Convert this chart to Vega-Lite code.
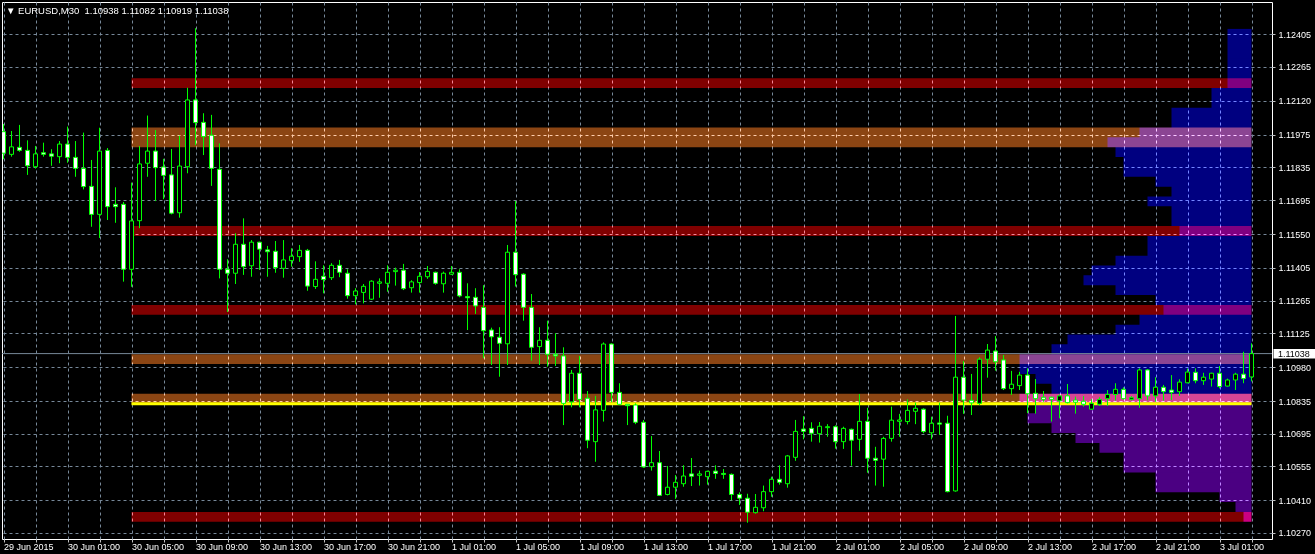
{
  "$schema": "https://vega.github.io/schema/vega-lite/v6.json",
  "width": 1270,
  "height": 537,
  "autosize": "none",
  "padding": {"left": 2, "top": 2, "right": 43, "bottom": 15},
  "background": "#000000",
  "config": {
    "view": {"stroke": "#ffffff", "strokeWidth": 1},
    "font": "Liberation Sans",
    "axis": {
      "domain": false,
      "grid": true,
      "gridColor": "#778899",
      "gridDash": [3, 3],
      "gridWidth": 1,
      "ticks": true,
      "tickColor": "#c0c0c0",
      "tickSize": 3,
      "labelColor": "#ffffff",
      "labelFont": "Liberation Sans",
      "labelFontSize": 9,
      "labelOverlap": false,
      "labelBound": false,
      "labelFlush": false
    }
  },
  "title": {
    "text": "▼ EURUSD,M30\u00a0 1.10938 1.11082 1.10919 1.11038",
    "anchor": "start",
    "frame": "group",
    "orient": "top",
    "offset": 0,
    "baseline": "alphabetic",
    "dx": 4,
    "dy": 21,
    "color": "#ffffff",
    "font": "Liberation Sans",
    "fontSize": 9.5,
    "fontWeight": "normal"
  },
  "datasets": {
    "profile": [
      {"row":1,"top":1.12428,"bot":1.123858,"from":153,"side":"upper"},
      {"row":2,"top":1.123858,"bot":1.123436,"from":153,"side":"upper"},
      {"row":3,"top":1.123436,"bot":1.123014,"from":153,"side":"upper"},
      {"row":4,"top":1.123014,"bot":1.122592,"from":153,"side":"upper"},
      {"row":5,"top":1.122592,"bot":1.12217,"from":153,"side":"upper"},
      {"row":6,"top":1.12217,"bot":1.121748,"from":153,"side":"upper"},
      {"row":7,"top":1.121748,"bot":1.121326,"from":151,"side":"upper"},
      {"row":8,"top":1.121326,"bot":1.120904,"from":151,"side":"upper"},
      {"row":9,"top":1.120904,"bot":1.120482,"from":146,"side":"upper"},
      {"row":10,"top":1.120482,"bot":1.12006,"from":146,"side":"upper"},
      {"row":11,"top":1.12006,"bot":1.119638,"from":142,"side":"upper"},
      {"row":12,"top":1.119638,"bot":1.119216,"from":138,"side":"upper"},
      {"row":13,"top":1.119216,"bot":1.118794,"from":139,"side":"upper"},
      {"row":14,"top":1.118794,"bot":1.118372,"from":140,"side":"upper"},
      {"row":15,"top":1.118372,"bot":1.11795,"from":140,"side":"upper"},
      {"row":16,"top":1.11795,"bot":1.117528,"from":144,"side":"upper"},
      {"row":17,"top":1.117528,"bot":1.117106,"from":146,"side":"upper"},
      {"row":18,"top":1.117106,"bot":1.116684,"from":143,"side":"upper"},
      {"row":19,"top":1.116684,"bot":1.116262,"from":146,"side":"upper"},
      {"row":20,"top":1.116262,"bot":1.11584,"from":146,"side":"upper"},
      {"row":21,"top":1.11584,"bot":1.115418,"from":147,"side":"upper"},
      {"row":22,"top":1.115418,"bot":1.114996,"from":143,"side":"upper"},
      {"row":23,"top":1.114996,"bot":1.114574,"from":143,"side":"upper"},
      {"row":24,"top":1.114574,"bot":1.114152,"from":139,"side":"upper"},
      {"row":25,"top":1.114152,"bot":1.11373,"from":136,"side":"upper"},
      {"row":26,"top":1.11373,"bot":1.113308,"from":135,"side":"upper"},
      {"row":27,"top":1.113308,"bot":1.112886,"from":139,"side":"upper"},
      {"row":28,"top":1.112886,"bot":1.112464,"from":144,"side":"upper"},
      {"row":29,"top":1.112464,"bot":1.112042,"from":145,"side":"upper"},
      {"row":30,"top":1.112042,"bot":1.11162,"from":142,"side":"upper"},
      {"row":31,"top":1.11162,"bot":1.111198,"from":139,"side":"upper"},
      {"row":32,"top":1.111198,"bot":1.110776,"from":133,"side":"upper"},
      {"row":33,"top":1.110776,"bot":1.110354,"from":131,"side":"upper"},
      {"row":34,"top":1.110354,"bot":1.109932,"from":127,"side":"upper"},
      {"row":35,"top":1.109932,"bot":1.10951,"from":127,"side":"upper"},
      {"row":36,"top":1.10951,"bot":1.109088,"from":129,"side":"upper"},
      {"row":37,"top":1.109088,"bot":1.108666,"from":131,"side":"upper"},
      {"row":38,"top":1.108666,"bot":1.108244,"from":127,"side":"lower"},
      {"row":39,"top":1.108244,"bot":1.107822,"from":129,"side":"lower"},
      {"row":40,"top":1.107822,"bot":1.1074,"from":128,"side":"lower"},
      {"row":41,"top":1.1074,"bot":1.106978,"from":131,"side":"lower"},
      {"row":42,"top":1.106978,"bot":1.106556,"from":134,"side":"lower"},
      {"row":43,"top":1.106556,"bot":1.106134,"from":137,"side":"lower"},
      {"row":44,"top":1.106134,"bot":1.105712,"from":140,"side":"lower"},
      {"row":45,"top":1.105712,"bot":1.10529,"from":140,"side":"lower"},
      {"row":46,"top":1.10529,"bot":1.104868,"from":144,"side":"lower"},
      {"row":47,"top":1.104868,"bot":1.104446,"from":144,"side":"lower"},
      {"row":48,"top":1.104446,"bot":1.104024,"from":152,"side":"lower"},
      {"row":49,"top":1.104024,"bot":1.103602,"from":154,"side":"lower"},
      {"row":50,"top":1.103602,"bot":1.10318,"from":155,"side":"lower"}
    ],
    "zones": [
      {"top":1.12217,"bot":1.121748,"kind":"strong"},
      {"top":1.12006,"bot":1.119216,"kind":"weak"},
      {"top":1.11584,"bot":1.115418,"kind":"strong"},
      {"top":1.112464,"bot":1.112042,"kind":"strong"},
      {"top":1.110354,"bot":1.109932,"kind":"weak"},
      {"top":1.108666,"bot":1.108244,"kind":"weak"},
      {"top":1.103602,"bot":1.10318,"kind":"strong"}
    ],
    "candles": [
      {"i":0,"o":1.11988,"h":1.12021,"l":1.1187,"c":1.11896},
      {"i":1,"o":1.11891,"h":1.11991,"l":1.11881,"c":1.11923},
      {"i":2,"o":1.11921,"h":1.12017,"l":1.11902,"c":1.11908},
      {"i":3,"o":1.11908,"h":1.11951,"l":1.11803,"c":1.11842},
      {"i":4,"o":1.11838,"h":1.11927,"l":1.1183,"c":1.11893},
      {"i":5,"o":1.11898,"h":1.11941,"l":1.11881,"c":1.11891},
      {"i":6,"o":1.11893,"h":1.11913,"l":1.11842,"c":1.11883},
      {"i":7,"o":1.11881,"h":1.11948,"l":1.11853,"c":1.11935},
      {"i":8,"o":1.11935,"h":1.1201,"l":1.11855,"c":1.11878},
      {"i":9,"o":1.11878,"h":1.11948,"l":1.11795,"c":1.11831},
      {"i":10,"o":1.11831,"h":1.11984,"l":1.11741,"c":1.11753},
      {"i":11,"o":1.11754,"h":1.11867,"l":1.11581,"c":1.11634},
      {"i":12,"o":1.11634,"h":1.12005,"l":1.11533,"c":1.11905},
      {"i":13,"o":1.11908,"h":1.11918,"l":1.1161,"c":1.11667},
      {"i":14,"o":1.11677,"h":1.1175,"l":1.11598,"c":1.11667},
      {"i":15,"o":1.11677,"h":1.11687,"l":1.11346,"c":1.11399},
      {"i":16,"o":1.11399,"h":1.1177,"l":1.11324,"c":1.11606},
      {"i":17,"o":1.11607,"h":1.11927,"l":1.11575,"c":1.1185},
      {"i":18,"o":1.11853,"h":1.12057,"l":1.11795,"c":1.11905},
      {"i":19,"o":1.11905,"h":1.11995,"l":1.11691,"c":1.11834},
      {"i":20,"o":1.11837,"h":1.11872,"l":1.11699,"c":1.11801},
      {"i":21,"o":1.11803,"h":1.11914,"l":1.11634,"c":1.11639},
      {"i":22,"o":1.11641,"h":1.11971,"l":1.1162,"c":1.11841},
      {"i":23,"o":1.11838,"h":1.12176,"l":1.1181,"c":1.12124},
      {"i":24,"o":1.12124,"h":1.12431,"l":1.1193,"c":1.12027},
      {"i":25,"o":1.12028,"h":1.12067,"l":1.11888,"c":1.11967},
      {"i":26,"o":1.11973,"h":1.1206,"l":1.11756,"c":1.11831},
      {"i":27,"o":1.11827,"h":1.11938,"l":1.1136,"c":1.11399},
      {"i":28,"o":1.11399,"h":1.11442,"l":1.11216,"c":1.11382},
      {"i":29,"o":1.11382,"h":1.11553,"l":1.11336,"c":1.11506},
      {"i":30,"o":1.11506,"h":1.11617,"l":1.11375,"c":1.1141},
      {"i":31,"o":1.11414,"h":1.11524,"l":1.11367,"c":1.11515},
      {"i":32,"o":1.11515,"h":1.11517,"l":1.11396,"c":1.11485},
      {"i":33,"o":1.11482,"h":1.11499,"l":1.11367,"c":1.11474},
      {"i":34,"o":1.11476,"h":1.1152,"l":1.11384,"c":1.11406},
      {"i":35,"o":1.11403,"h":1.11524,"l":1.11363,"c":1.11439},
      {"i":36,"o":1.11436,"h":1.11489,"l":1.1141,"c":1.11455},
      {"i":37,"o":1.11453,"h":1.11503,"l":1.11431,"c":1.1148},
      {"i":38,"o":1.1148,"h":1.11486,"l":1.11307,"c":1.11327},
      {"i":39,"o":1.11325,"h":1.11433,"l":1.11315,"c":1.11356},
      {"i":40,"o":1.11369,"h":1.11416,"l":1.11296,"c":1.11355},
      {"i":41,"o":1.11363,"h":1.11425,"l":1.11353,"c":1.11416},
      {"i":42,"o":1.11416,"h":1.11439,"l":1.11365,"c":1.11386},
      {"i":43,"o":1.11382,"h":1.11399,"l":1.11273,"c":1.11286},
      {"i":44,"o":1.11286,"h":1.11318,"l":1.11249,"c":1.11306},
      {"i":45,"o":1.113,"h":1.11336,"l":1.11253,"c":1.11326},
      {"i":46,"o":1.11271,"h":1.11352,"l":1.11268,"c":1.11348},
      {"i":47,"o":1.11339,"h":1.1136,"l":1.11277,"c":1.11345},
      {"i":48,"o":1.11339,"h":1.11416,"l":1.11303,"c":1.11386},
      {"i":49,"o":1.11389,"h":1.11406,"l":1.11329,"c":1.11395},
      {"i":50,"o":1.11395,"h":1.11422,"l":1.1131,"c":1.11316},
      {"i":51,"o":1.1132,"h":1.11352,"l":1.11299,"c":1.11345},
      {"i":52,"o":1.11342,"h":1.11387,"l":1.11299,"c":1.11369},
      {"i":53,"o":1.11367,"h":1.11413,"l":1.11358,"c":1.1139},
      {"i":54,"o":1.11386,"h":1.11389,"l":1.11333,"c":1.11339},
      {"i":55,"o":1.11337,"h":1.11389,"l":1.11299,"c":1.11382},
      {"i":56,"o":1.11378,"h":1.11413,"l":1.11375,"c":1.11386},
      {"i":57,"o":1.11386,"h":1.11399,"l":1.11279,"c":1.11285},
      {"i":58,"o":1.11282,"h":1.11339,"l":1.11139,"c":1.11277},
      {"i":59,"o":1.11279,"h":1.11318,"l":1.11208,"c":1.11242},
      {"i":60,"o":1.11236,"h":1.11331,"l":1.11018,"c":1.11136},
      {"i":61,"o":1.11139,"h":1.11149,"l":1.10989,"c":1.1111},
      {"i":62,"o":1.11108,"h":1.11151,"l":1.10939,"c":1.11082},
      {"i":63,"o":1.1108,"h":1.11503,"l":1.10989,"c":1.11472},
      {"i":64,"o":1.11472,"h":1.11691,"l":1.11325,"c":1.11376},
      {"i":65,"o":1.11378,"h":1.11382,"l":1.11179,"c":1.11236},
      {"i":66,"o":1.11236,"h":1.11293,"l":1.11008,"c":1.11065},
      {"i":67,"o":1.11068,"h":1.11151,"l":1.10989,"c":1.11095},
      {"i":68,"o":1.11095,"h":1.11179,"l":1.10982,"c":1.11035},
      {"i":69,"o":1.11035,"h":1.11125,"l":1.10985,"c":1.11028},
      {"i":70,"o":1.11028,"h":1.11065,"l":1.10732,"c":1.10825},
      {"i":71,"o":1.10831,"h":1.10968,"l":1.10808,"c":1.10954},
      {"i":72,"o":1.10954,"h":1.11028,"l":1.10808,"c":1.10842},
      {"i":73,"o":1.10847,"h":1.10878,"l":1.10633,"c":1.10667},
      {"i":74,"o":1.10661,"h":1.10857,"l":1.10575,"c":1.10797},
      {"i":75,"o":1.10795,"h":1.11086,"l":1.10747,"c":1.11079},
      {"i":76,"o":1.11079,"h":1.11082,"l":1.1083,"c":1.10872},
      {"i":77,"o":1.10872,"h":1.10911,"l":1.10818,"c":1.10821},
      {"i":78,"o":1.10821,"h":1.10821,"l":1.10732,"c":1.10815},
      {"i":79,"o":1.10818,"h":1.10825,"l":1.10736,"c":1.10744},
      {"i":80,"o":1.10744,"h":1.10754,"l":1.10549,"c":1.10553},
      {"i":81,"o":1.10554,"h":1.10685,"l":1.10537,"c":1.10571},
      {"i":82,"o":1.10571,"h":1.10621,"l":1.1043,"c":1.10431},
      {"i":83,"o":1.10435,"h":1.10557,"l":1.10431,"c":1.10466},
      {"i":84,"o":1.10466,"h":1.10518,"l":1.10416,"c":1.10487},
      {"i":85,"o":1.10481,"h":1.1056,"l":1.10468,"c":1.10514},
      {"i":86,"o":1.10523,"h":1.10591,"l":1.10471,"c":1.10513},
      {"i":87,"o":1.10517,"h":1.10537,"l":1.10473,"c":1.10523},
      {"i":88,"o":1.10511,"h":1.10537,"l":1.10477,"c":1.10534},
      {"i":89,"o":1.10535,"h":1.1056,"l":1.10502,"c":1.10525},
      {"i":90,"o":1.10525,"h":1.10544,"l":1.10502,"c":1.10521},
      {"i":91,"o":1.10521,"h":1.10525,"l":1.1041,"c":1.10435},
      {"i":92,"o":1.10435,"h":1.10444,"l":1.1039,"c":1.10419},
      {"i":93,"o":1.10419,"h":1.10438,"l":1.10314,"c":1.10359},
      {"i":94,"o":1.10357,"h":1.10437,"l":1.10353,"c":1.1038},
      {"i":95,"o":1.10378,"h":1.10473,"l":1.10363,"c":1.10447},
      {"i":96,"o":1.10447,"h":1.10511,"l":1.10425,"c":1.105},
      {"i":97,"o":1.105,"h":1.1056,"l":1.10477,"c":1.10487},
      {"i":98,"o":1.10481,"h":1.10604,"l":1.10464,"c":1.106},
      {"i":99,"o":1.10594,"h":1.10754,"l":1.10579,"c":1.10705},
      {"i":100,"o":1.10715,"h":1.1077,"l":1.10671,"c":1.10705},
      {"i":101,"o":1.10718,"h":1.10744,"l":1.10661,"c":1.10697},
      {"i":102,"o":1.10695,"h":1.10745,"l":1.10657,"c":1.10727},
      {"i":103,"o":1.10721,"h":1.10736,"l":1.10682,"c":1.10725},
      {"i":104,"o":1.10725,"h":1.10731,"l":1.10631,"c":1.10661},
      {"i":105,"o":1.10661,"h":1.10725,"l":1.1063,"c":1.10718},
      {"i":106,"o":1.10714,"h":1.10717,"l":1.10558,"c":1.10667},
      {"i":107,"o":1.10671,"h":1.10865,"l":1.10622,"c":1.10748},
      {"i":108,"o":1.10748,"h":1.10806,"l":1.10528,"c":1.1059},
      {"i":109,"o":1.1059,"h":1.10639,"l":1.10473,"c":1.10581},
      {"i":110,"o":1.10586,"h":1.10682,"l":1.10468,"c":1.10675},
      {"i":111,"o":1.10675,"h":1.10811,"l":1.10661,"c":1.10753},
      {"i":112,"o":1.10748,"h":1.1078,"l":1.10682,"c":1.10754},
      {"i":113,"o":1.10747,"h":1.10842,"l":1.10735,"c":1.10795},
      {"i":114,"o":1.10791,"h":1.10828,"l":1.10736,"c":1.10804},
      {"i":115,"o":1.108,"h":1.10804,"l":1.10697,"c":1.10704},
      {"i":116,"o":1.10699,"h":1.10768,"l":1.10671,"c":1.1074},
      {"i":117,"o":1.10741,"h":1.10828,"l":1.1069,"c":1.10736},
      {"i":118,"o":1.1074,"h":1.10772,"l":1.10444,"c":1.10447},
      {"i":119,"o":1.1045,"h":1.11199,"l":1.10447,"c":1.10937},
      {"i":120,"o":1.10937,"h":1.11006,"l":1.1078,"c":1.10839},
      {"i":121,"o":1.10838,"h":1.10951,"l":1.10775,"c":1.10827},
      {"i":122,"o":1.10825,"h":1.11022,"l":1.10818,"c":1.11014},
      {"i":123,"o":1.11014,"h":1.11079,"l":1.10935,"c":1.11053},
      {"i":124,"o":1.11049,"h":1.11113,"l":1.10965,"c":1.11003},
      {"i":125,"o":1.11011,"h":1.11032,"l":1.10882,"c":1.10888},
      {"i":126,"o":1.10888,"h":1.10964,"l":1.10861,"c":1.10907},
      {"i":127,"o":1.10901,"h":1.1096,"l":1.10882,"c":1.10946},
      {"i":128,"o":1.10946,"h":1.10975,"l":1.10783,"c":1.10866},
      {"i":129,"o":1.10868,"h":1.10929,"l":1.10781,"c":1.10845},
      {"i":130,"o":1.10851,"h":1.10878,"l":1.10832,"c":1.10842},
      {"i":131,"o":1.10851,"h":1.10854,"l":1.10747,"c":1.10842},
      {"i":132,"o":1.10836,"h":1.10863,"l":1.10761,"c":1.10857},
      {"i":133,"o":1.10857,"h":1.10908,"l":1.10825,"c":1.10828},
      {"i":134,"o":1.10839,"h":1.10854,"l":1.10781,"c":1.1083},
      {"i":135,"o":1.10834,"h":1.10856,"l":1.10811,"c":1.10821},
      {"i":136,"o":1.108,"h":1.10843,"l":1.10797,"c":1.10825},
      {"i":137,"o":1.10821,"h":1.10851,"l":1.10814,"c":1.10842},
      {"i":138,"o":1.10845,"h":1.10882,"l":1.10814,"c":1.10863},
      {"i":139,"o":1.10863,"h":1.10911,"l":1.10837,"c":1.10885},
      {"i":140,"o":1.10885,"h":1.10894,"l":1.10842,"c":1.10845},
      {"i":141,"o":1.10842,"h":1.10856,"l":1.10837,"c":1.10849},
      {"i":142,"o":1.10845,"h":1.10975,"l":1.10806,"c":1.10968},
      {"i":143,"o":1.10968,"h":1.10972,"l":1.10838,"c":1.10857},
      {"i":144,"o":1.10857,"h":1.10937,"l":1.10832,"c":1.10894},
      {"i":145,"o":1.10894,"h":1.10904,"l":1.10837,"c":1.10875},
      {"i":146,"o":1.10882,"h":1.10946,"l":1.10839,"c":1.10872},
      {"i":147,"o":1.10875,"h":1.10928,"l":1.10857,"c":1.10916},
      {"i":148,"o":1.10913,"h":1.10974,"l":1.10911,"c":1.10959},
      {"i":149,"o":1.10958,"h":1.10975,"l":1.10911,"c":1.10922},
      {"i":150,"o":1.10922,"h":1.10956,"l":1.10904,"c":1.10937},
      {"i":151,"o":1.10929,"h":1.10956,"l":1.10897,"c":1.10954},
      {"i":152,"o":1.10954,"h":1.10985,"l":1.10889,"c":1.10897},
      {"i":153,"o":1.10899,"h":1.10931,"l":1.10897,"c":1.10925},
      {"i":154,"o":1.10925,"h":1.10956,"l":1.10882,"c":1.1095},
      {"i":155,"o":1.1095,"h":1.11046,"l":1.10911,"c":1.10931},
      {"i":156,"o":1.10938,"h":1.11082,"l":1.10919,"c":1.11038}
    ]
  },
  "layer": [
    {
      "data": {"name": "profile"},
      "mark": {"type": "rect", "blend": "plus-lighter"},
      "encoding": {
        "x": {
          "field": "from", "type": "quantitative",
          "scale": {"domain": [-0.1875, 158.5625], "nice": false, "zero": false, "padding": 0},
          "axis": {
            "values": [0,4,8,12,16,20,24,28,32,36,40,44,48,52,56,60,64,68,72,76,80,84,88,92,96,100,104,108,112,116,120,124,128,132,136,140,144,148,152,156],
            "tickCount": 100,
            "labelExpr": "datum.value % 8 === 0 ? ['29 Jun 2015','30 Jun 01:00','30 Jun 05:00','30 Jun 09:00','30 Jun 13:00','30 Jun 17:00','30 Jun 21:00','1 Jul 01:00','1 Jul 05:00','1 Jul 09:00','1 Jul 13:00','1 Jul 17:00','1 Jul 21:00','2 Jul 01:00','2 Jul 05:00','2 Jul 09:00','2 Jul 13:00','2 Jul 17:00','2 Jul 21:00','3 Jul 01:00'][datum.value / 8] : ''",
            "title": null,
            "labelAlign": "left",
            "labelBaseline": "top",
            "labelPadding": 0,
            "labelOverlap": false
          }
        },
        "x2": {"datum": 156},
        "y": {
          "field": "top", "type": "quantitative",
          "scale": {"domain": [1.102443, 1.125432], "nice": false, "zero": false},
          "axis": {
            "orient": "right",
            "values": [1.1027, 1.1041, 1.10555, 1.10695, 1.10835, 1.1098, 1.11125, 1.11265, 1.11405, 1.1155, 1.11695, 1.11835, 1.11975, 1.1212, 1.12265, 1.12405],
            "tickCount": 100,
            "format": ".5f",
            "title": null,
            "labelPadding": 3,
            "labelOverlap": false,
            "labelSeparation": 0
          }
        },
        "y2": {"field": "bot"},
        "fill": {
          "field": "side", "type": "nominal",
          "scale": {"domain": ["upper", "lower"], "range": ["#000080", "#4b0082"]},
          "legend": null
        }
      }
    },
    {
      "data": {"name": "zones"},
      "mark": {"type": "rect", "blend": "plus-lighter"},
      "encoding": {
        "x": {"datum": 16, "type": "quantitative", "scale": {"domain": [-0.1875, 158.5625], "nice": false, "zero": false, "padding": 0}},
        "x2": {"datum": 156},
        "y": {"field": "top", "type": "quantitative", "scale": {"domain": [1.102443, 1.125432], "nice": false, "zero": false}},
        "y2": {"field": "bot"},
        "fill": {
          "field": "kind", "type": "nominal",
          "scale": {"domain": ["strong", "weak"], "range": ["#800000", "#8b4513"]},
          "legend": null
        }
      }
    },
    {
      "data": {"values": [{"price": 1.10823}]},
      "mark": {"type": "rule", "color": "#ffff00", "strokeWidth": 3},
      "encoding": {
        "x": {"datum": 16, "type": "quantitative", "scale": {"domain": [-0.1875, 158.5625], "nice": false, "zero": false, "padding": 0}},
        "x2": {"datum": 156},
        "y": {"field": "price", "type": "quantitative", "scale": {"domain": [1.102443, 1.125432], "nice": false, "zero": false}}
      }
    },
    {
      "data": {"values": [{"price": 1.11038}]},
      "mark": {"type": "rule", "color": "#778899", "strokeWidth": 1},
      "encoding": {
        "y": {"field": "price", "type": "quantitative", "scale": {"domain": [1.102443, 1.125432], "nice": false, "zero": false}}
      }
    },
    {
      "data": {"name": "candles"},
      "mark": {"type": "rule", "color": "#00ff00", "strokeWidth": 1, "clip": true},
      "encoding": {
        "x": {"field": "i", "type": "quantitative", "scale": {"domain": [-0.1875, 158.5625], "nice": false, "zero": false, "padding": 0}},
        "y": {"field": "l", "type": "quantitative", "scale": {"domain": [1.102443, 1.125432], "nice": false, "zero": false}},
        "y2": {"field": "h"}
      }
    },
    {
      "data": {"name": "candles"},
      "mark": {"type": "bar", "size": 4, "stroke": "#00ff00", "strokeWidth": 1, "clip": true},
      "encoding": {
        "x": {"field": "i", "type": "quantitative", "scale": {"domain": [-0.1875, 158.5625], "nice": false, "zero": false, "padding": 0}},
        "y": {"field": "o", "type": "quantitative", "scale": {"domain": [1.102443, 1.125432], "nice": false, "zero": false}},
        "y2": {"field": "c"},
        "fill": {"condition": {"test": "datum.c < datum.o", "value": "#ffffff"}, "value": "#000000"}
      }
    },
    {
      "data": {"values": [{"price": 1.11038}]},
      "mark": {"type": "rect", "fill": "#ffffff"},
      "encoding": {
        "x": {"datum": 158.75, "type": "quantitative", "scale": {"domain": [-0.1875, 158.5625], "nice": false, "zero": false, "padding": 0}},
        "x2": {"datum": 164},
        "y": {"datum": 1.11058, "type": "quantitative", "scale": {"domain": [1.102443, 1.125432], "nice": false, "zero": false}},
        "y2": {"datum": 1.11017}
      }
    },
    {
      "data": {"values": [{"price": 1.11038}]},
      "mark": {"type": "text", "align": "left", "baseline": "middle", "color": "#000000", "font": "Liberation Sans", "fontSize": 9},
      "encoding": {
        "x": {"datum": 159.31, "type": "quantitative", "scale": {"domain": [-0.1875, 158.5625], "nice": false, "zero": false, "padding": 0}},
        "y": {"field": "price", "type": "quantitative", "scale": {"domain": [1.102443, 1.125432], "nice": false, "zero": false}},
        "text": {"field": "price", "type": "quantitative", "format": ".5f"}
      }
    }
  ],
  "resolve": {"scale": {"fill": "independent"}}
}
